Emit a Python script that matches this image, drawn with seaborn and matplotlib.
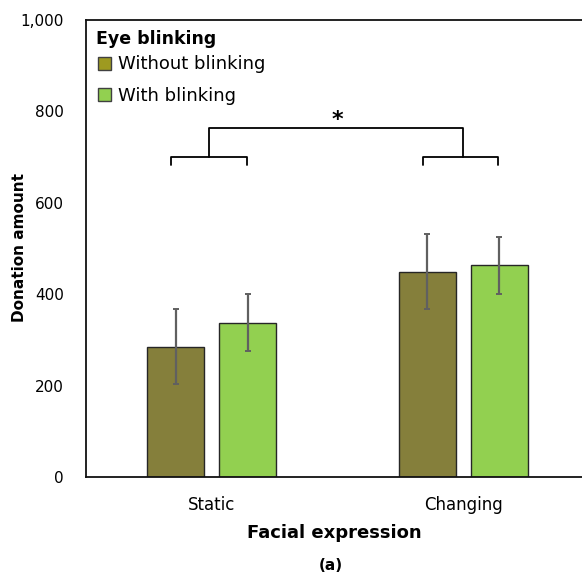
import matplotlib
matplotlib.use("Agg")
import matplotlib.pyplot as plt
from matplotlib.patches import Patch
import numpy as np
import pandas as pd
import seaborn as sns

# Values
expressions = ["Static", "Changing"]
blinking = ["Without blinking", "With blinking"]
means_without = [285, 449]
means_with = [338, 463]
err_without = [82, 82]
err_with = [63, 63]

bar_colors = {"Without blinking": "#857f3b", "With blinking": "#92d050"}
legend_colors = {"Without blinking": "#9e9a20", "With blinking": "#92d050"}

df = pd.DataFrame({
    "expression": expressions * 2,
    "blinking": [blinking[0]] * 2 + [blinking[1]] * 2,
    "donation": means_without + means_with,
    "err": err_without + err_with,
})

sns.set_style("white")
plt.rcParams["font.family"] = ["DejaVu Sans"]
plt.rcParams.update({"text.color": "black", "axes.labelcolor": "black",
                     "xtick.color": "black", "ytick.color": "black"})

fig = plt.figure(figsize=(5.82, 5.76), dpi=100)
ax = fig.add_axes([0.1478, 0.1719, 0.8522, 0.7934])

sns.barplot(data=df, x="expression", y="donation", hue="blinking",
            order=expressions, hue_order=blinking, palette=bar_colors,
            width=0.573, gap=0.21, errorbar=None, saturation=1,
            edgecolor="#262626", linewidth=1.0, legend=False, ax=ax)

# error bars at the bar centres
for patch_group, hue in zip([ax.patches[:2], ax.patches[2:4]], blinking):
    sub = df[df["blinking"] == hue]
    xs = [p.get_x() + p.get_width() / 2 for p in patch_group]
    ax.errorbar(xs, sub["donation"], yerr=sub["err"], fmt="none",
                ecolor="#606060", elinewidth=1.6, capsize=2, capthick=1.4)

ax.set_xlim(-0.5, 1.473)
ax.set_ylim(0, 1000)
ax.set_yticks(np.arange(0, 1001, 200))
ax.yaxis.set_major_formatter(matplotlib.ticker.FuncFormatter(lambda v, p: f"{int(v):,}"))
ax.tick_params(axis="y", direction="in", length=4, width=1, labelsize=11, pad=16, color="#333333")
ax.tick_params(axis="x", length=0, labelsize=12, pad=14)

for side in ["left", "bottom", "top"]:
    ax.spines[side].set_visible(True)
    ax.spines[side].set_color("#111111")
    ax.spines[side].set_linewidth(1.3)
ax.spines["right"].set_visible(False)

ax.set_xlabel("Facial expression", fontsize=13, fontweight="bold", labelpad=7)
ax.set_ylabel("Donation amount", fontsize=11, fontweight="bold")
ax.yaxis.set_label_coords(-0.118, 0.503)

# significance brackets
lw = 1.3
for cx in [0, 1]:
    ax.plot([cx - 0.16, cx - 0.16, cx + 0.14, cx + 0.14], [683, 701, 701, 683], color="black", lw=lw)
ax.plot([-0.01, -0.01, 1.0, 1.0], [701, 763, 763, 701], color="black", lw=lw)
ax.text(0.5, 760, "*", ha="center", va="bottom", fontsize=16, fontweight="bold")

# legend: title as text, entries as a frameless legend
ax.text(0.02, 0.958, "Eye blinking", transform=ax.transAxes, ha="left", va="center",
        fontsize=12.5, fontweight="bold")
handles = [Patch(facecolor=legend_colors[b], edgecolor="#404040", linewidth=1.0, label=b) for b in blinking]
ax.legend(handles=handles, loc="upper left", bbox_to_anchor=(-0.002, 0.95),
          frameon=False, fontsize=13, handlelength=0.75, handleheight=0.75,
          handletextpad=0.4, labelspacing=0.75, borderaxespad=0.3)

fig.text(0.5678, 0.005, "(a)", ha="center", va="bottom", fontsize=11, fontweight="bold")

fig.savefig("out.png", dpi=100)
